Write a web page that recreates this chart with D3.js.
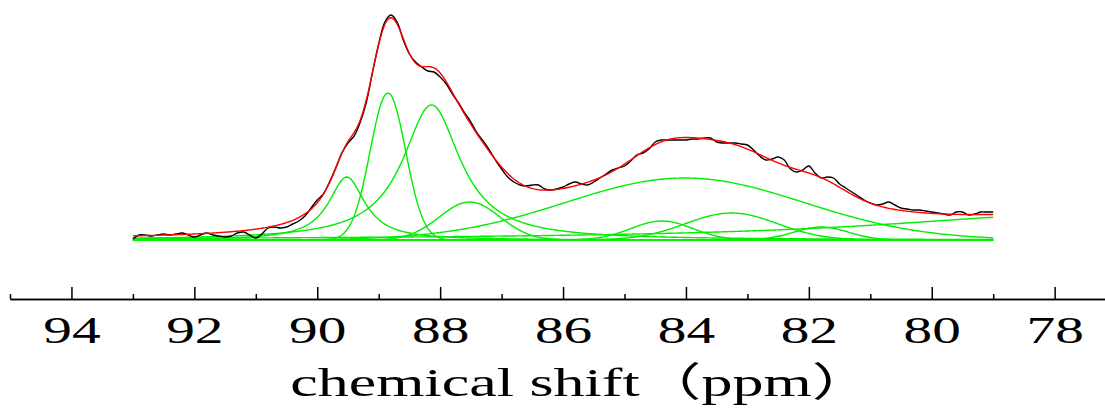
<!DOCTYPE html>
<html>
<head>
<meta charset="utf-8">
<script src="https://cdn.jsdelivr.net/npm/d3@7"></script>
<style>
  html, body { margin: 0; padding: 0; background: #fff; }
  svg { display: block; }
  text { font-family: "Liberation Serif", "Times New Roman", "Noto Sans CJK SC", serif; fill: #000; }
</style>
</head>
<body>
<svg id="chart" width="1105" height="411"></svg>
<script>
// measured spectrum, 93.0 -> 79.0 ppm, one reading every 0.1 ppm
var specStart = 93.0;
var specStep = 0.1;
var specIntensity = [
  1, 5, 5, 4, 5, 6, 5, 6, 7, 5,
  3, 5, 7, 5, 4, 3, 4, 7, 8, 5,
  2, 6, 12, 13, 12, 13, 16, 19, 24, 32,
  40, 46, 58, 72, 87, 97, 104, 118, 138, 168,
  196, 218, 225, 218, 200, 186, 178, 173, 169, 168,
  163, 156, 146, 137, 127, 118, 107, 99, 90, 80,
  71, 63, 58, 55, 54, 55, 55, 51, 50, 51,
  53, 56, 58, 56, 55, 58, 62, 66, 70, 72,
  74, 79, 85, 87, 91, 98, 100, 100, 100, 100,
  100, 101, 101, 102, 102, 98, 97, 97, 97, 96,
  95, 90, 84, 80, 81, 83, 80, 71, 68, 70,
  74, 67, 62, 63, 62, 56, 52, 48, 44, 40,
  37, 35, 36, 38, 35, 32, 31, 30, 30, 29,
  28, 27, 26, 25, 28, 28, 25, 26, 28, 28,
  28
];

// fitted components: centre (ppm), height, half width at half max (ppm), line shape
var peakCenter = [89.52, 88.85, 88.14, 87.52, 84.02, 84.39, 83.26, 81.80, 77.50];
var peakHeight = [63, 147, 135, 38, 62, 19, 27, 13, 26];
var peakHwhm   = [0.36, 0.34, 0.57, 0.58, 2.28, 0.59, 0.88, 0.52, 4.00];
var peakShape  = ["L", "G", "L", "G", "G", "G", "G", "G", "L"];

var majorTicks = [94, 92, 90, 88, 86, 84, 82, 80, 78];
var minorTicks = [95, 93, 91, 89, 87, 85, 83, 81, 79, 77];
var xTitle = "chemical shift\uFF08ppm\uFF09";

var fitFrom = 93.0, fitTo = 79.0;
var textStretch = 1.55;

var svg = d3.select("#chart");

var x = d3.scaleLinear().domain([95, 77]).range([10, 10 + 18 * 61.45]);
var y = d3.scaleLinear().domain([0, 230]).range([240, 10]);

function lineShape(i, ppm) {
  var d = (ppm - peakCenter[i]) / peakHwhm[i];
  if (peakShape[i] == "G") return peakHeight[i] * Math.exp(-Math.LN2 * d * d);
  return peakHeight[i] / (1 + d * d);
}

// fine grid for drawing the fitted curves
var grid = [];
for (var p = fitFrom; p >= fitTo - 1e-9; p -= 0.02) grid.push(p);

var line = d3.line()
  .x(function (d) { return x(d[0]); })
  .y(function (d) { return y(d[1]); });

// component peaks
svg.append("g").selectAll("path")
  .data(peakCenter).enter().append("path")
  .attr("fill", "none")
  .attr("stroke", "#00ee00")
  .attr("stroke-width", 1.4)
  .attr("d", function (c, i) {
    return line(grid.map(function (p) { return [p, lineShape(i, p)]; }));
  });

// measured spectrum
var spec = specIntensity.map(function (v, i) { return [specStart - i * specStep, v]; });
svg.append("path")
  .attr("fill", "none")
  .attr("stroke", "#000")
  .attr("stroke-width", 1.4)
  .attr("d", line.curve(d3.curveCatmullRom)(spec));

// total fit = sum of the components
var fit = grid.map(function (p) {
  var s = 0;
  for (var i = 0; i < peakCenter.length; i++) s += lineShape(i, p);
  return [p, s];
});
svg.append("path")
  .attr("fill", "none")
  .attr("stroke", "#ff0000")
  .attr("stroke-width", 1.4)
  .attr("d", line.curve(d3.curveLinear)(fit));

// x axis, ticks pointing up
var axisY = 299;
var gMinor = svg.append("g")
  .attr("transform", "translate(0," + axisY + ")")
  .call(d3.axisBottom(x).tickValues(minorTicks).tickSize(-5).tickSizeOuter(0).tickFormat(""));
var gMajor = svg.append("g")
  .attr("transform", "translate(0," + axisY + ")")
  .call(d3.axisBottom(x).tickValues(majorTicks).tickSize(-12).tickSizeOuter(0).tickFormat(d3.format("d")));

svg.selectAll(".domain, .tick line").attr("stroke", "#000").attr("stroke-width", 1.5);

gMajor.selectAll("text")
  .attr("y", 44)
  .attr("dy", null)
  .attr("font-size", 37)
  .attr("font-family", null)
  .attr("transform", "scale(" + textStretch + ",1)");

// axis title; the full-width closing bracket carries blank space on its right
svg.append("text")
  .attr("transform", "translate(582,396) scale(" + textStretch + ",1)")
  .attr("text-anchor", "middle")
  .attr("font-size", 40)
  .text(xTitle);
</script>
</body>
</html>
